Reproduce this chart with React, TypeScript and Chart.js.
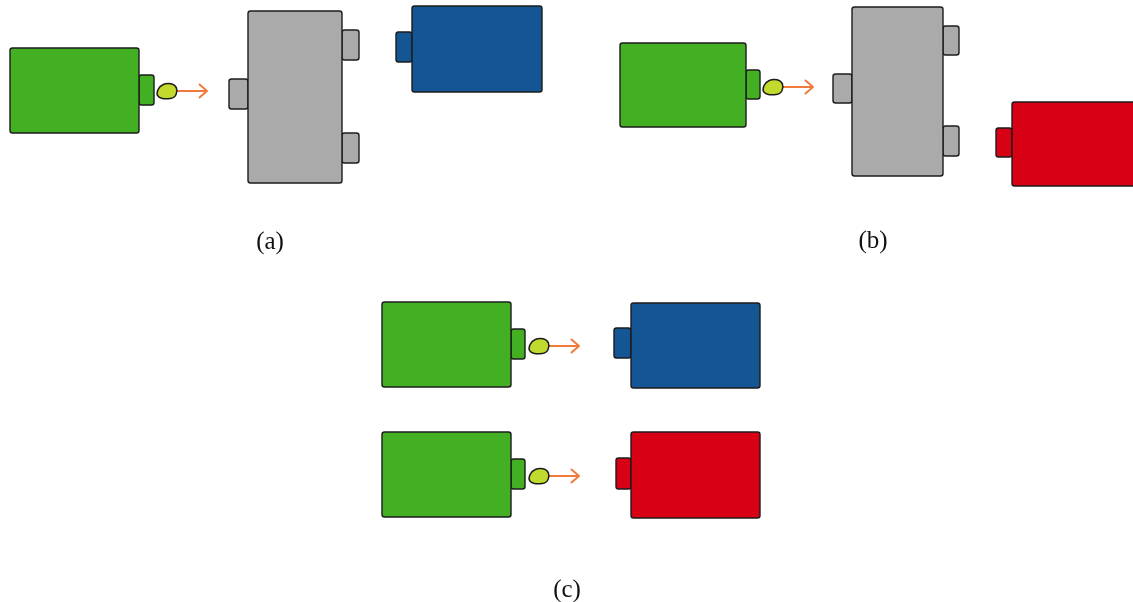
import React, { useEffect, useRef } from "react";
import { Chart, registerables } from "chart.js";

Chart.register(...registerables);

// Bodies of the devices (data units: x 0..1133, y 0..602 from top)
const bodyKind = ["source", "splitter", "blue", "source", "splitter", "red", "source", "blue", "source", "red"];
const bodyLeft = [10, 248, 412, 620, 852, 1012, 382, 631, 382, 631];
const bodyRight = [139, 342, 542, 746, 943, 1142, 511, 760, 511, 760];
const bodyTop = [48, 11, 6, 43, 7, 102, 302, 303, 432, 432];
const bodyBottom = [133, 183, 92, 127, 176, 186, 387, 388, 517, 518];

// Ports (small tabs)
const portKind = ["source", "splitter", "splitter", "splitter", "blue", "source", "splitter", "splitter", "splitter", "red", "source", "blue", "source", "red"];
const portLeft = [139, 229, 342, 342, 396, 746, 833, 943, 943, 996, 511, 614, 511, 616];
const portRight = [154, 248, 359, 359, 412, 760, 852, 959, 959, 1012, 525, 631, 525, 631];
const portTop = [75, 79, 30, 133, 32, 70, 74, 26, 126, 128, 329, 328, 459, 458];
const portBottom = [105, 109, 60, 163, 62, 99, 103, 55, 156, 157, 359, 358, 489, 489];

// Particles and arrows
const blobX = [167, 773, 539, 539];
const blobY = [91, 87, 346, 476];
const arrowStart = [176, 782, 548, 548];
const arrowEnd = [207, 813, 579, 579];

// Sub-figure labels
const labelText = ["(a)", "(b)", "(c)"];
const labelX = [270, 873, 567];
const labelY = [242, 241, 590];

const COLORS: Record<string, string> = {
  source: "#43b023",
  splitter: "#aaaaaa",
  blue: "#145694",
  red: "#d70015",
};

const diagramPlugin = {
  id: "diagram",
  afterDatasetsDraw(chart: any) {
    const { ctx } = chart;
    const xs = chart.scales.x;
    const ys = chart.scales.y;
    const px = (v: number) => xs.getPixelForValue(v);
    const py = (v: number) => ys.getPixelForValue(v);
    ctx.save();

    const rect = (l: number, r: number, t: number, b: number, fill: string) => {
      const x0 = px(l), x1 = px(r), y0 = py(t), y1 = py(b);
      ctx.beginPath();
      (ctx as any).roundRect(x0, y0, x1 - x0, y1 - y0, 2.5);
      ctx.fillStyle = fill;
      ctx.fill();
      ctx.lineWidth = 1.4;
      ctx.strokeStyle = "#1c1c1c";
      ctx.stroke();
    };

    portKind.forEach((k, i) => rect(portLeft[i], portRight[i], portTop[i], portBottom[i], COLORS[k]));
    bodyKind.forEach((k, i) => rect(bodyLeft[i], bodyRight[i], bodyTop[i], bodyBottom[i], COLORS[k]));

    // arrows
    arrowStart.forEach((s, i) => {
      const y = py(blobY[i]);
      const x0 = px(s), x1 = px(arrowEnd[i]);
      ctx.beginPath();
      ctx.moveTo(x0, y);
      ctx.lineTo(x1, y);
      ctx.moveTo(x1 - 7.5, y - 6.5);
      ctx.lineTo(x1, y);
      ctx.lineTo(x1 - 7.5, y + 6.5);
      ctx.strokeStyle = "#f07a3c";
      ctx.lineWidth = 2;
      ctx.lineCap = "round";
      ctx.lineJoin = "round";
      ctx.stroke();
    });

    // blobs
    const k = 1.25;
    const shape = [
      [-8.5, 2], [-6, -4], [0, -6.5], [6.5, -5], [8.5, 0], [6, 5.5], [-1, 6.5], [-6.5, 5.5],
    ].map(([a, b]) => [a * k, b * k]);
    blobX.forEach((bx, i) => {
      const cx = px(bx), cy = py(blobY[i]);
      ctx.beginPath();
      const n = shape.length;
      const mid = (a: number[], b: number[]) => [(a[0] + b[0]) / 2, (a[1] + b[1]) / 2];
      const m0 = mid(shape[n - 1], shape[0]);
      ctx.moveTo(cx + m0[0], cy + m0[1]);
      for (let j = 0; j < n; j++) {
        const p = shape[j];
        const m = mid(p, shape[(j + 1) % n]);
        ctx.quadraticCurveTo(cx + p[0], cy + p[1], cx + m[0], cy + m[1]);
      }
      ctx.closePath();
      ctx.fillStyle = "#c2d92e";
      ctx.fill();
      ctx.lineWidth = 1.5;
      ctx.strokeStyle = "#1c1c1c";
      ctx.stroke();
    });

    // labels
    ctx.fillStyle = "#111111";
    ctx.font = "25px 'Liberation Serif', serif";
    ctx.textAlign = "center";
    ctx.textBaseline = "middle";
    labelText.forEach((t, i) => ctx.fillText(t, px(labelX[i]), py(labelY[i])));

    ctx.restore();
  },
};

export default function App() {
  const ref = useRef<HTMLCanvasElement>(null);
  useEffect(() => {
    document.body.style.margin = "0";
    if (!ref.current) return;
    const chart = new Chart(ref.current, {
      type: "scatter",
      data: {
        datasets: [
          {
            label: "particles",
            data: blobX.map((x, i) => ({ x, y: blobY[i] })),
            pointRadius: 0,
          },
        ],
      },
      options: {
        animation: false,
        responsive: true,
        maintainAspectRatio: false,
        layout: { padding: 0 },
        plugins: { legend: { display: false }, tooltip: { enabled: false } },
        events: [],
        scales: {
          x: { type: "linear", min: 0, max: 1133, display: false },
          y: { type: "linear", min: 0, max: 602, reverse: true, display: false },
        },
      },
      plugins: [diagramPlugin],
    });
    return () => chart.destroy();
  }, []);
  return (
    <div style={{ width: 1133, height: 602, background: "#ffffff" }}>
      <canvas ref={ref} />
    </div>
  );
}
